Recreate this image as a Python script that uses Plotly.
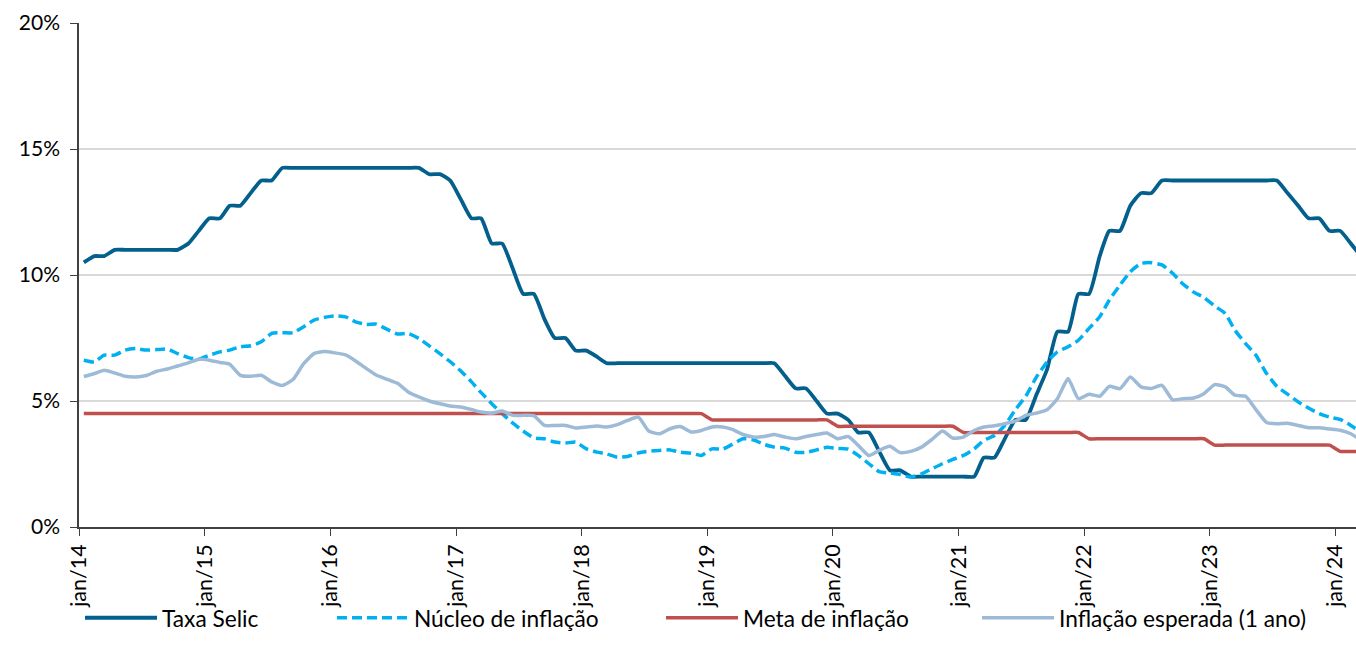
import pandas as pd
import plotly.graph_objects as go

# ---------------- data (monthly, jan/2014 - mar/2024) ----------------
selic = [
    10.5, 10.75, 10.75, 11.0, 11.0, 11.0, 11.0, 11.0, 11.0, 11.0, 11.25, 11.75,
    12.25, 12.25, 12.75, 12.75, 13.25, 13.75, 13.75, 14.25, 14.25, 14.25, 14.25, 14.25,
    14.25, 14.25, 14.25, 14.25, 14.25, 14.25, 14.25, 14.25, 14.25, 14.0, 14.0, 13.75,
    13.0, 12.25, 12.25, 11.25, 11.25, 10.25, 9.25, 9.25, 8.25, 7.5, 7.5, 7.0,
    7.0, 6.75, 6.5, 6.5, 6.5, 6.5, 6.5, 6.5, 6.5, 6.5, 6.5, 6.5,
    6.5, 6.5, 6.5, 6.5, 6.5, 6.5, 6.5, 6.0, 5.5, 5.5, 5.0, 4.5,
    4.5, 4.25, 3.75, 3.75, 3.0, 2.25, 2.25, 2.0, 2.0, 2.0, 2.0, 2.0,
    2.0, 2.0, 2.75, 2.75, 3.5, 4.25, 4.25, 5.25, 6.25, 7.75, 7.75, 9.25,
    9.25, 10.75, 11.75, 11.75, 12.75, 13.25, 13.25, 13.75, 13.75, 13.75, 13.75, 13.75,
    13.75, 13.75, 13.75, 13.75, 13.75, 13.75, 13.75, 13.25, 12.75, 12.25, 12.25, 11.75,
    11.75, 11.25, 10.75,
]

nucleo = [
    6.62, 6.55, 6.82, 6.82, 7.02, 7.08, 7.02, 7.04, 7.06, 6.88, 6.72, 6.66,
    6.82, 6.95, 7.02, 7.15, 7.19, 7.35, 7.68, 7.71, 7.71, 7.94, 8.21, 8.32,
    8.38, 8.34, 8.14, 8.04, 8.05, 7.84, 7.66, 7.68, 7.48, 7.19, 6.88, 6.56,
    6.19, 5.76, 5.33, 4.89, 4.50, 4.12, 3.81, 3.54, 3.50, 3.37, 3.33, 3.37,
    3.10, 2.97, 2.90, 2.77, 2.80, 2.94, 3.01, 3.04, 3.06, 2.97, 2.93, 2.84,
    3.10, 3.09, 3.28, 3.50, 3.46, 3.28, 3.17, 3.13, 2.97, 2.96, 3.06, 3.16,
    3.12, 3.09, 2.84, 2.51, 2.20, 2.14, 2.08, 1.98, 2.11, 2.31, 2.51, 2.68,
    2.84, 3.10, 3.44, 3.63, 4.03, 4.66, 5.19, 5.95, 6.55, 6.95, 7.15, 7.41,
    7.88, 8.34, 9.01, 9.60, 10.13, 10.46, 10.49, 10.40, 10.07, 9.64, 9.32, 9.11,
    8.77, 8.47, 7.81, 7.28, 6.82, 6.09, 5.58, 5.27, 4.96, 4.72, 4.50, 4.36,
    4.27, 4.03, 3.77,
]

meta = (
    [4.5] * 12 + [4.5] * 12 + [4.5] * 12 + [4.5] * 12 + [4.5] * 12
    + [4.25] * 12 + [4.0] * 12 + [3.75] * 12 + [3.5] * 12 + [3.25] * 12
    + [3.0] * 3
)

esperada = [
    5.97, 6.09, 6.22, 6.11, 5.98, 5.95, 6.01, 6.18, 6.27, 6.39, 6.51, 6.66,
    6.62, 6.53, 6.46, 6.02, 5.98, 6.02, 5.76, 5.62, 5.85, 6.46, 6.88, 6.96,
    6.91, 6.83, 6.59, 6.29, 6.02, 5.86, 5.70, 5.36, 5.16, 5.00, 4.89, 4.80,
    4.76, 4.66, 4.56, 4.52, 4.60, 4.43, 4.43, 4.42, 4.03, 4.03, 4.03, 3.93,
    3.97, 4.01, 3.97, 4.06, 4.23, 4.36, 3.81, 3.70, 3.90, 3.99, 3.77, 3.83,
    3.97, 3.97, 3.87, 3.67, 3.57, 3.59, 3.67, 3.57, 3.50, 3.59, 3.67, 3.73,
    3.50, 3.59, 3.24, 2.84, 3.04, 3.20, 2.95, 3.00, 3.17, 3.47, 3.81, 3.53,
    3.57, 3.83, 3.97, 4.02, 4.10, 4.20, 4.43, 4.52, 4.65, 5.09, 5.89, 5.09,
    5.27, 5.19, 5.58, 5.49, 5.95, 5.56, 5.50, 5.62, 5.05, 5.09, 5.12, 5.29,
    5.65, 5.56, 5.23, 5.19, 4.66, 4.15, 4.10, 4.12, 4.03, 3.94, 3.94, 3.89,
    3.84, 3.70, 3.44,
]

series_names = ["Taxa Selic", "Núcleo de inflação", "Meta de inflação", "Inflação esperada (1 ano)"]

x_tick_dates = [f"{y}-01-01" for y in range(2014, 2025)]
x_tick_labels = ["jan/14", "jan/15", "jan/16", "jan/17", "jan/18", "jan/19",
                 "jan/20", "jan/21", "jan/22", "jan/23", "jan/24"]
y_tick_vals = [0, 5, 10, 15, 20]
y_tick_labels = ["0%", "5%", "10%", "15%", "20%"]

# monthly observations, plotted mid-month
dates = pd.date_range("2014-01-01", periods=len(selic), freq="MS") + pd.Timedelta(days=14)

FONT = "Lato"
colors = ["#035F8C", "#00B0F0", "#C0504D", "#9DBAD6"]

fig = go.Figure()
data_list = [selic, nucleo, meta, esperada]
dashes = ["solid", "10px,5px", "solid", "solid"]
widths = [3.8, 3.5, 3.5, 3.5]
legends = ["legend", "legend2", "legend3", "legend4"]
for name, vals, col, dsh, w, lg in zip(series_names, data_list, colors, dashes, widths, legends):
    fig.add_trace(go.Scatter(
        x=dates, y=vals, name=name, mode="lines",
        line=dict(color=col, width=w, dash=dsh, shape="spline", smoothing=0.5),
        legend=lg, hoverinfo="x+y+name",
    ))

W, H = 1356, 657
ml, mr, mt, mb = 79, 0, 23, 130
pw = W - ml - mr
ph = H - mt - mb

def legend_cfg(px_left):
    return dict(
        x=(px_left - ml) / pw, xanchor="left", xref="paper",
        y=-91 / ph, yanchor="middle", yref="paper",
        orientation="h", itemwidth=72, bgcolor="rgba(0,0,0,0)",
        font=dict(family=FONT, size=22.7, color="#000000"),
        tracegroupgap=0, itemclick=False,
    )

fig.update_layout(
    width=W, height=H,
    margin=dict(l=ml, r=mr, t=mt, b=mb, pad=0, autoexpand=False),
    paper_bgcolor="white", plot_bgcolor="white",
    font=dict(family=FONT, size=21, color="#000000"),
    showlegend=True,
    legend=legend_cfg(80),
    legend2=legend_cfg(332),
    legend3=legend_cfg(661),
    legend4=legend_cfg(977),
    xaxis=dict(
        type="date",
        range=["2014-01-01", "2024-03-01"],
        tickmode="array", tickvals=x_tick_dates, ticktext=x_tick_labels,
        tickangle=-90, ticks="outside", ticklen=7, tickwidth=1, tickcolor="#404040",
        showline=True, linecolor="#404040", linewidth=1.5,
        showgrid=False, zeroline=False, automargin=False,
        tickfont=dict(family=FONT, size=21.5, color="#000000"),
    ),
    yaxis=dict(
        range=[0, 20],
        tickmode="array", tickvals=y_tick_vals, ticktext=y_tick_labels,
        ticks="outside", ticklen=7, tickwidth=1, tickcolor="#404040",
        showline=True, linecolor="#404040", linewidth=1.5,
        showgrid=True, gridcolor="#D9D9D9", gridwidth=1.5,
        zeroline=False, ticklabelstandoff=6, automargin=False,
        tickfont=dict(family=FONT, size=21, color="#000000"),
    ),
)

fig.write_html(
    "out.html",
    config={"displayModeBar": False},
    post_script="document.body.style.margin='0';document.body.style.overflow='hidden';",
)
